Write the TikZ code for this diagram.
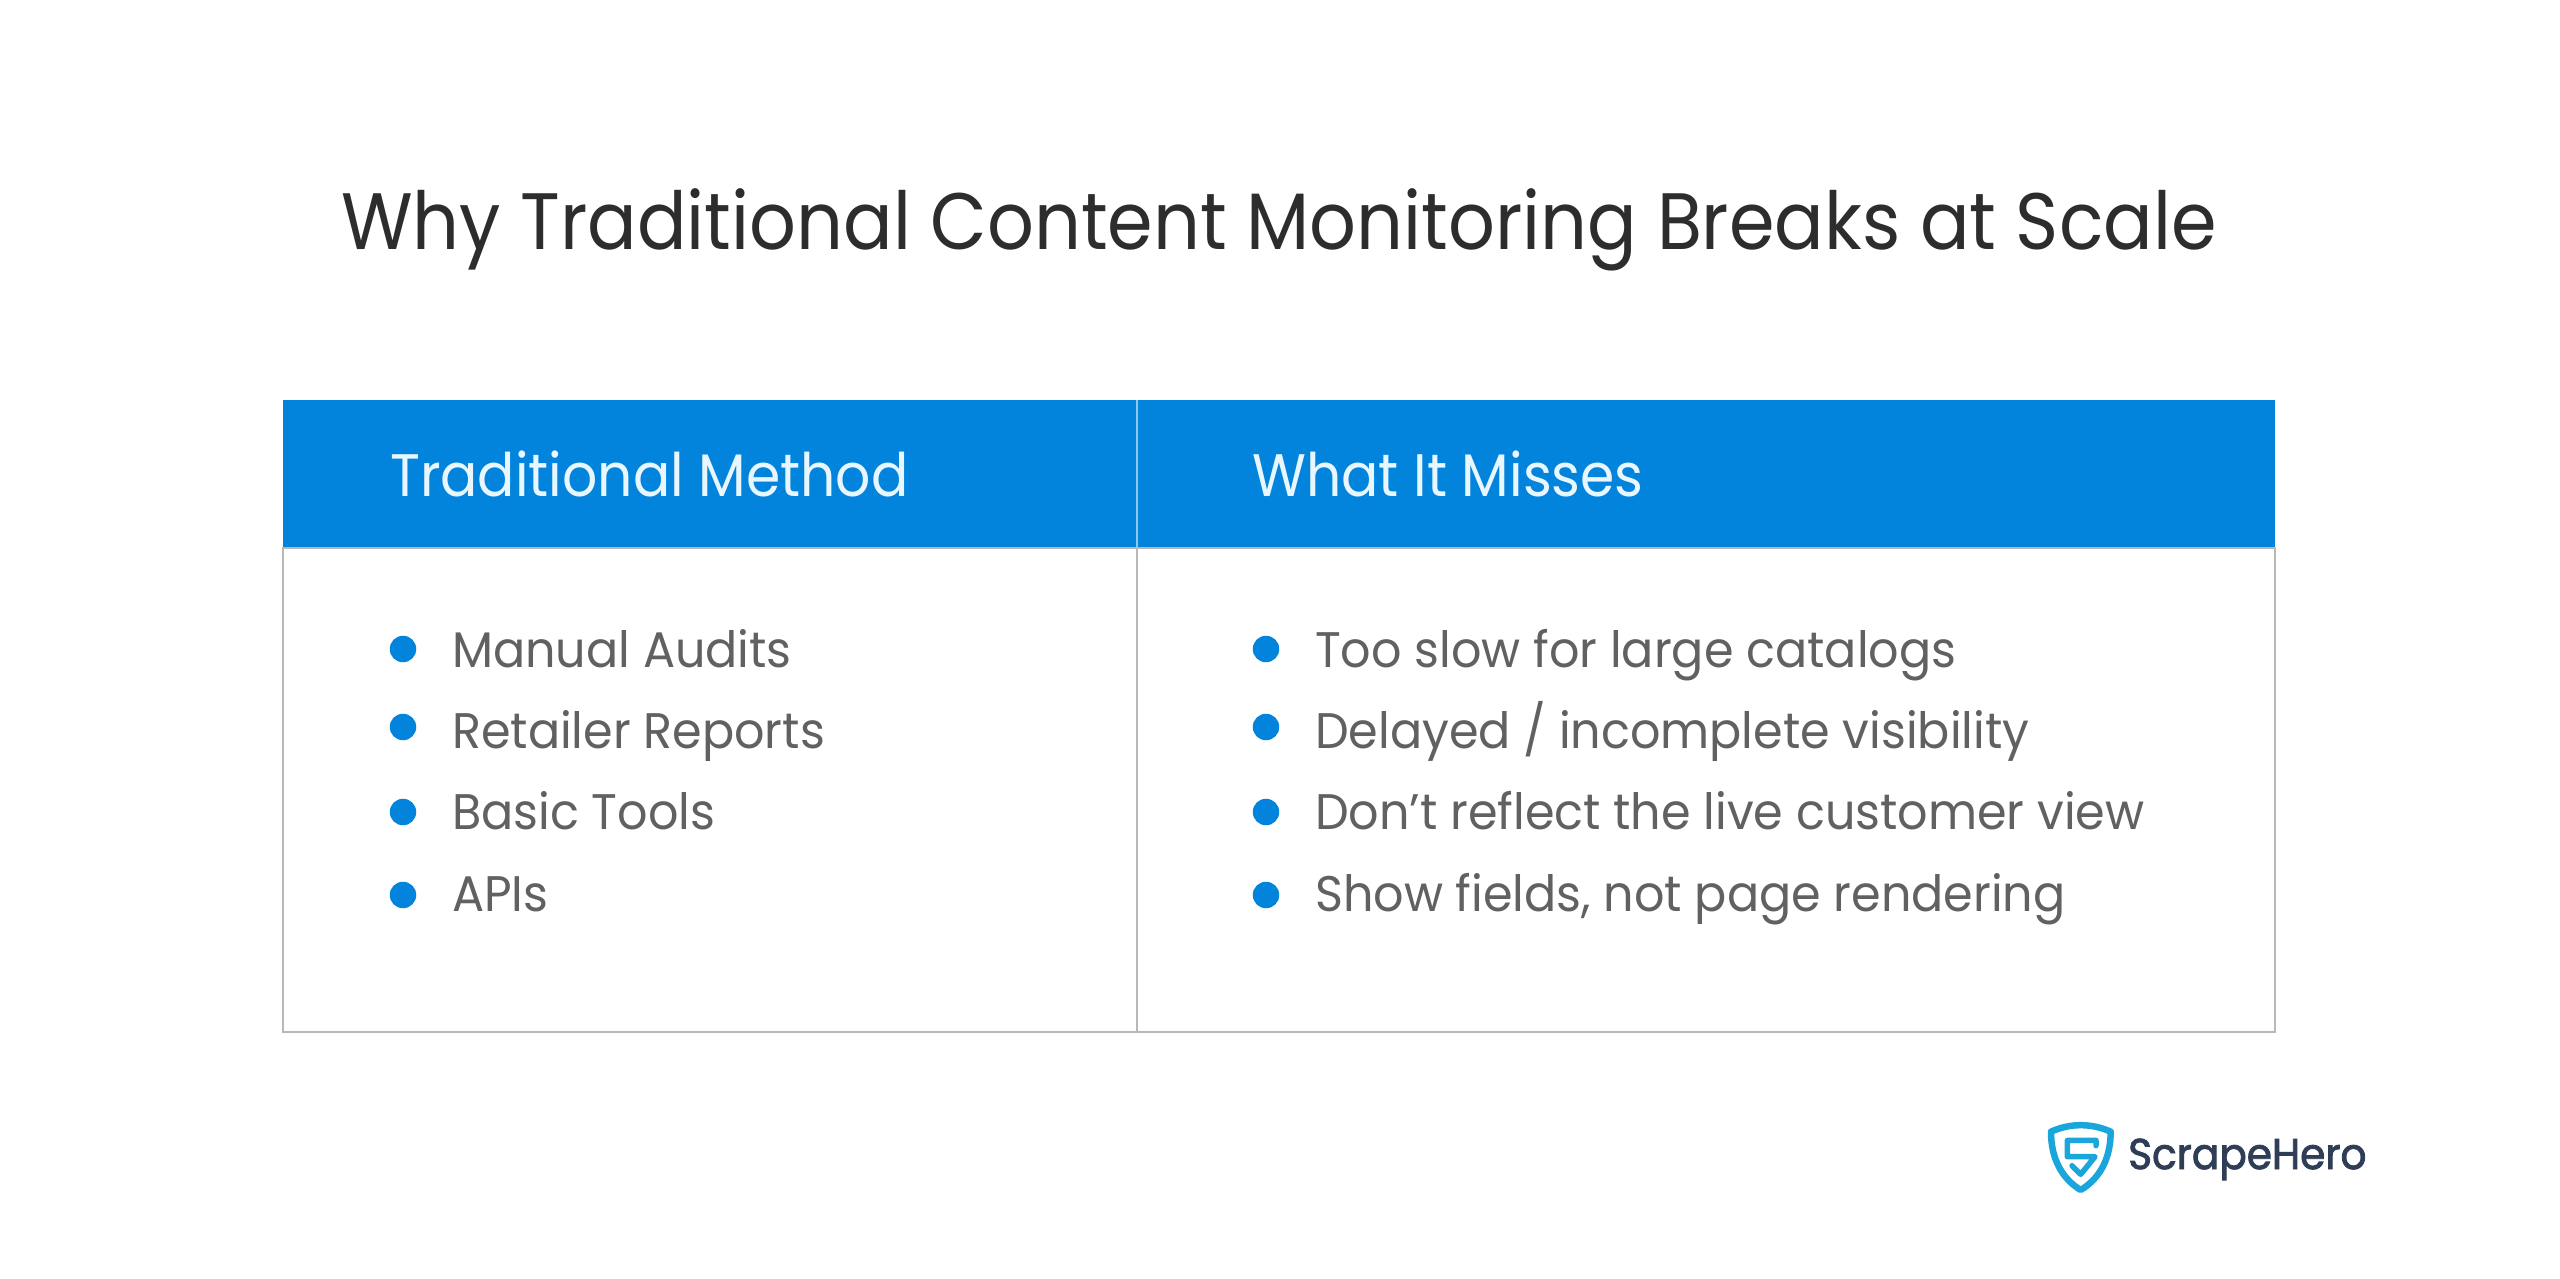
\documentclass[tikz,border=0pt]{standalone}
\usepackage{fontspec}
\usepackage{tikz}
\setmainfont{Poppins}[FakeStretch=0.92]
\newfontfamily\titlefont{Poppins}[FakeStretch=0.917]
\newfontfamily\itemfont{Poppins}[FakeStretch=0.953]
\newfontfamily\logofont{Poppins}[FakeStretch=0.945, FakeBold=2]

\definecolor{headblue}{HTML}{0284DC}
\definecolor{headtxt}{HTML}{E8F6FF}
\definecolor{bodytxt}{HTML}{616161}
\definecolor{titletxt}{HTML}{2D2D2D}
\definecolor{rulegray}{HTML}{B8B8B8}
\definecolor{logocyan}{HTML}{1BA6DB}
\definecolor{logotxt}{HTML}{2F3E56}

\tikzset{
  titlenode/.style={anchor=base west, inner sep=0pt, text=titletxt, font=\titlefont\fontsize{80}{80}\selectfont},
  headnode/.style={anchor=base west, inner sep=0pt, text=headtxt, font=\fontsize{60}{60}\selectfont},
  itemnode/.style={anchor=base west, inner sep=0pt, text=bodytxt, font=\itemfont\fontsize{50}{50}\selectfont},
  dotnode/.style={circle, fill=headblue, inner sep=0pt, minimum size=26.5pt},
  logonode/.style={anchor=base west, inner sep=0pt, text=logotxt, font=\logofont\fontsize{43}{43}\selectfont},
  shieldline/.style={draw=logocyan, line join=round, line cap=round}
}

\begin{document}
\begin{tikzpicture}[x=1pt, y=-1pt]
        \useasboundingbox [fill=white] (0,0) rectangle (2560,1278);

        \node [titlenode] (title) at (341,249) {Why Traditional Content Monitoring Breaks at Scale};

        \fill [headblue]            (283,400) rectangle (2275,548);  %header
        \draw [rulegray, line width=2.5pt] (283,548) rectangle (2275,1032); %body
        \draw [rulegray, line width=2.5pt] (1137,548) -- (1137,1032);       %
        \draw [headtxt!60!headblue, line width=2pt] (1137,400) -- (1137,548); %

        \node [headnode] (headleft)  at (390,496)  {Traditional Method};
        \node [headnode] (headright) at (1252,496) {What It Misses};

        \node [dotnode] (dota) at (403,649) {};                      %left
        \node [dotnode] (dotb) at (403,727) {};                      %
        \node [dotnode] (dotc) at (403,812) {};                      %
        \node [dotnode] (dotd) at (403,895) {};                      %
        \node [itemnode] (itema) at (452,667) {Manual Audits};
        \node [itemnode] (itemb) at (452,748) {Retailer Reports};
        \node [itemnode] (itemc) at (452,829) {Basic Tools};
        \node [itemnode] (itemd) at (452,911) {APIs};

        \node [dotnode] (dote) at (1266,649) {};                     %right
        \node [dotnode] (dotf) at (1266,727) {};                     %
        \node [dotnode] (dotg) at (1266,812) {};                     %
        \node [dotnode] (doth) at (1266,895) {};                     %
        \node [itemnode] (iteme) at (1315,667) {Too slow for large catalogs};
        \node [itemnode] (itemf) at (1315,748) {Delayed / incomplete visibility};
        \node [itemnode] (itemg) at (1315,829) {Don’t reflect the live customer view};
        \node [itemnode] (itemh) at (1315,911) {Show fields, not page rendering};

        \begin{scope}[shift={(2040,1115)}, x=0.3333pt, y=-0.3333pt]  %logo
          \draw [shieldline, line width=6.5pt] (33,50) .. controls (90,24) and (155,24) .. (212,50)
                .. controls (212,130) and (180,190) .. (122,225)
                .. controls (65,190) and (33,130) .. (33,50) -- cycle;
          \draw [shieldline, line width=5.5pt] (168,92) -- (168,76) -- (82,76) -- (82,125) -- (165,125)
                -- (122,178) -- (96,152);
        \end{scope}
        \node [logonode] (logotext) at (2128,1169) {ScrapeHero};
\end{tikzpicture}
\end{document}
